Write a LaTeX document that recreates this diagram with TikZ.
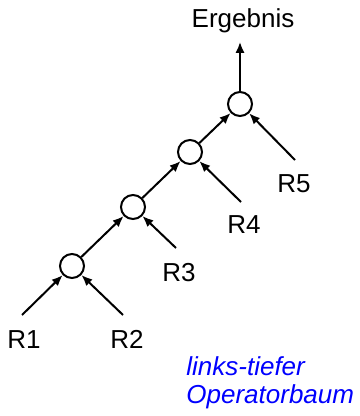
\documentclass[tikz,border=0pt]{standalone}
\usepackage{fontspec}
\setmainfont{Liberation Sans}
\usepackage{xcolor}
\usepackage{tikz}
\usetikzlibrary{arrows.meta,positioning}
\definecolor{notelblue}{HTML}{0000FF}
\definecolor{inkblack}{HTML}{000000}
\tikzset{
  opnode/.style={draw=inkblack,circle,line width=1pt,minimum size=12pt,inner sep=0pt,fill=white},
  relnode/.style={inner sep=0pt,font=\fontsize{13}{15}\selectfont,text=inkblack,anchor=base},
  treearrow/.style={-{Latex[length=5.5pt,width=4.5pt]},draw=inkblack,line width=1pt},
  notenode/.style={inner sep=0pt,font=\fontsize{13}{14}\selectfont\itshape,text=notelblue,align=left,anchor=north west},
}
\begin{document}
\begin{tikzpicture}[x=0.5pt,y=-0.5pt]
    \useasboundingbox (0,0) rectangle (359,416);
    \node[opnode] (c1) at (72,266) {};
    \node[opnode] (c2) at (133,207) {};
    \node[opnode] (c3) at (190,152) {};
    \node[opnode] (c4) at (240,104) {};
    \node[relnode] (erg) at (243,28) {Ergebnis};
    \node[relnode] (r1) at (24,348) {R1};
    \node[relnode] (r2) at (127,348) {R2};
    \node[relnode] (r3) at (179,281) {R3};
    \node[relnode] (r4) at (244,234) {R4};
    \node[relnode] (r5) at (294,192) {R5};
    \coordinate (e1) at (22,315); \coordinate (e2) at (123,315);
    \coordinate (e3) at (176,248); \coordinate (e4) at (241,202);
    \coordinate (e5) at (295,160);
    \draw[treearrow] (e1)--(c1); \draw[treearrow] (e2)--(c1);
    \draw[treearrow] (c1)--(c2); \draw[treearrow] (e3)--(c2);
    \draw[treearrow] (c2)--(c3); \draw[treearrow] (e4)--(c3);
    \draw[treearrow] (c3)--(c4); \draw[treearrow] (e5)--(c4);
    \draw[treearrow,shorten >=4pt] (c4)--(c4 |- erg.south);
    \node[notenode] (note) at (186,356) {links-tiefer\\Operatorbaum};
  \end{tikzpicture}
\end{document}
